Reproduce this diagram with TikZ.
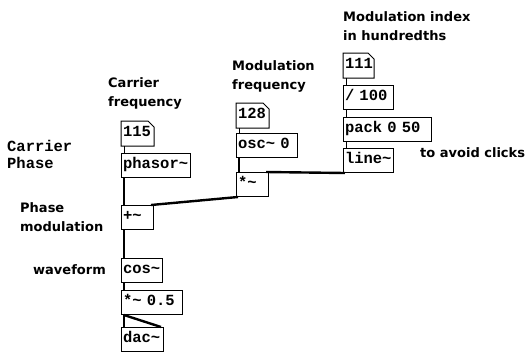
\documentclass[tikz,border=0pt]{standalone}
\usepackage{fontspec}
\setmainfont{DejaVu Sans}
\newfontfamily\pdmono{Liberation Mono}

\tikzset{
  pdobj/.style={draw, line width=1pt, anchor=north west, inner xsep=1.5pt, inner ysep=0pt,
    minimum height=24pt, text height=10pt, text depth=4pt, text width=#1, align=left,
    font=\pdmono\bfseries\fontsize{15.5}{15.5}\selectfont},
  pdnum/.style={pdobj=#1, draw=none},
  pdnote/.style={anchor=base west, inner sep=0pt, align=left,
    font=\bfseries\fontsize{13}{19}\selectfont},
  ctlwire/.style={line width=1pt},
  sigwire/.style={line width=2.4pt},
}

\begin{document}
\begin{tikzpicture}[x=1pt, y=-1pt]
\path (0,0) rectangle (531,357);
% objects
\node[pdnum=29] (num115) at (121,121) {115};
\node[pdobj=66] (phasor) at (121,153) {phasor\textasciitilde};
\node[pdnum=29] (num128) at (236,103) {128};
\node[pdobj=58] (osc) at (236,133) {osc\textasciitilde{} 0};
\node[pdobj=29] (modmul) at (236,172) {*\textasciitilde};
\node[pdnum=27] (num111) at (343,53) {111};
\node[pdobj=47] (div) at (343,85) {/ 100};
\node[pdobj=85] (pack) at (343,117) {pack 0 50};
\node[pdobj=47] (line) at (343,148) {line\textasciitilde};
\node[pdobj=29] (plus) at (121,205) {+\textasciitilde};
\node[pdobj=38] (cos) at (121,258) {cos\textasciitilde};
\node[pdobj=58] (outmul) at (121,290) {*\textasciitilde{} 0.5};
\node[pdobj=39] (dac) at (121,327) {dac\textasciitilde};
% number boxes
\foreach \n in {num115, num128, num111}
  \draw[line width=1pt] (\n.north west) -- ([xshift=-6pt]\n.north east)
    -- ([yshift=-6pt]\n.north east) -- (\n.south east) -- (\n.south west) -- cycle;
% comments
\node[pdnote] (lblindex) at (343,40) {Modulation index\\in hundredths};
\node[pdnote] (lblmodfreq) at (232,89) {Modulation\\frequency};
\node[pdnote] (lblcarfreq) at (108,106) {Carrier\\frequency};
\node[pdnote, font=\pdmono\bfseries\fontsize{15.5}{17}\selectfont] (lblcarphase) at (7,168) {Carrier\\Phase};
\node[pdnote] (lblphasemod) at (20,231) {Phase\\modulation};
\node[pdnote] (lblwave) at (33,274) {waveform};
\node[pdnote] (lblclicks) at (420,157) {to avoid clicks};
% control wires
\draw[ctlwire] ([xshift=3pt]num115.south west) -- ([xshift=3pt]phasor.north west);
\draw[ctlwire] ([xshift=3pt]num128.south west) -- ([xshift=3pt]osc.north west);
\draw[ctlwire] ([xshift=3pt]num111.south west) -- ([xshift=3pt]div.north west);
\draw[ctlwire] ([xshift=3pt]div.south west) -- ([xshift=3pt]pack.north west);
\draw[ctlwire] ([xshift=3pt]pack.south west) -- ([xshift=3pt]line.north west);
% signal wires
\draw[sigwire] ([xshift=3pt]phasor.south west) -- ([xshift=3pt]plus.north west);
\draw[sigwire] ([xshift=3pt]osc.south west) -- ([xshift=3pt]modmul.north west);
\draw[sigwire] ([xshift=2pt]line.south west) -- ([xshift=-3pt]modmul.north east);
\draw[sigwire] ([xshift=2pt]modmul.south west) -- ([xshift=-3pt]plus.north east);
\draw[sigwire] ([xshift=3pt]plus.south west) -- ([xshift=3pt]cos.north west);
\draw[sigwire] ([xshift=3pt]cos.south west) -- ([xshift=3pt]outmul.north west);
\draw[sigwire] ([xshift=3pt]outmul.south west) -- ([xshift=3pt]dac.north west);
\draw[sigwire] ([xshift=3pt]outmul.south west) -- ([xshift=-3pt]dac.north east);
\end{tikzpicture}
\end{document}
